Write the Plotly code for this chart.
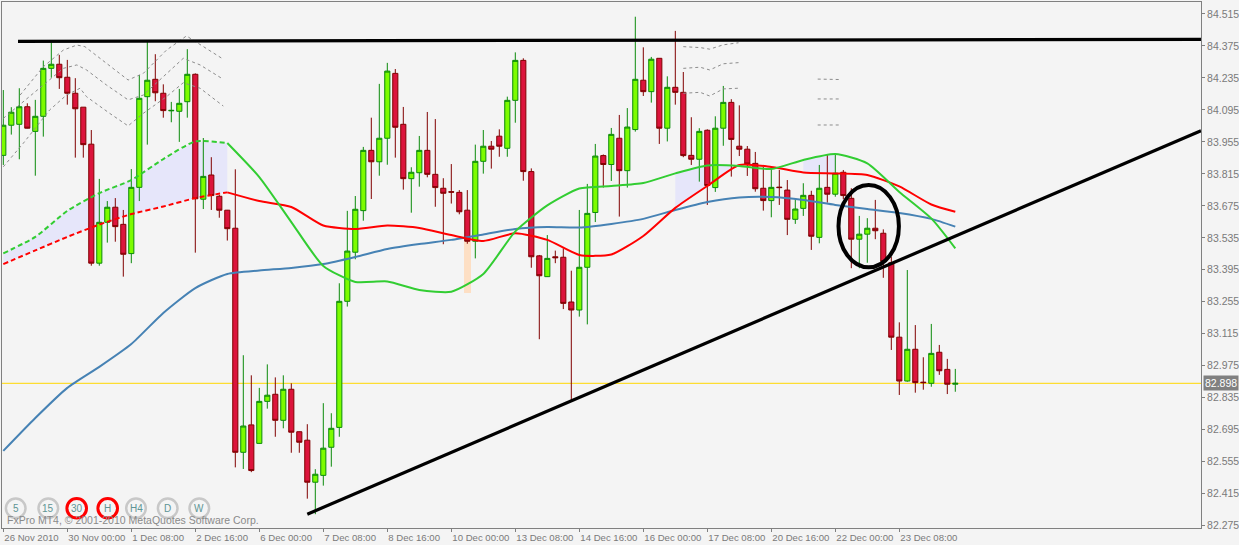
import plotly.graph_objects as go

# ---------------- data ----------------
bar_index = list(range(120))

opens = [83.896, 84.028, 84.032, 84.109, 84.001, 84.067, 84.277, 84.295, 84.238, 84.168,
         84.107, 83.945, 83.424, 83.603, 83.669, 83.594, 83.466, 83.756, 84.153, 84.229,
         84.168, 84.091, 84.089, 84.131, 84.251, 83.704, 83.810, 83.717, 83.656, 83.577,
         82.596, 82.716, 82.635, 82.819, 82.850, 82.736, 82.872, 82.686, 82.649, 82.465,
         82.495, 82.618, 82.705, 83.257, 83.472, 83.654, 83.918, 83.868, 83.971, 84.255,
         84.032, 83.794, 83.820, 83.918, 83.813, 83.752, 83.737, 83.734, 83.656, 83.520,
         83.870, 83.936, 83.980, 83.927, 84.137, 84.312, 83.825, 83.456, 83.365, 83.452,
         83.450, 83.254, 83.219, 83.406, 83.646, 83.895, 83.856, 83.971, 83.829, 84.009,
         84.225, 84.175, 84.321, 84.015, 84.194, 84.172, 83.896, 83.879, 84.006, 83.755,
         84.015, 84.128, 83.936, 83.923, 83.861, 83.752, 83.698, 83.757, 83.744, 83.616,
         83.664, 83.721, 83.537, 83.756, 83.726, 83.822, 83.708, 83.529, 83.551, 83.577,
         83.555, 83.426, 83.100, 82.908, 83.047, 82.903, 82.898, 83.034, 82.959, 82.894]

highs = [84.182, 84.107, 84.190, 84.124, 84.139, 84.311, 84.397, 84.336, 84.314, 84.234,
         84.107, 84.007, 83.793, 83.696, 83.709, 83.657, 83.836, 84.248, 84.394, 84.339,
         84.207, 84.130, 84.187, 84.361, 84.255, 83.972, 83.888, 83.723, 83.657, 83.835,
         83.021, 82.933, 82.878, 82.981, 82.924, 82.933, 82.898, 82.687, 82.719, 82.522,
         82.811, 82.767, 83.336, 83.653, 83.718, 83.933, 84.061, 84.209, 84.301, 84.274,
         84.108, 83.844, 83.981, 84.086, 84.055, 83.796, 83.858, 83.744, 83.744, 83.943,
         84.007, 83.959, 84.010, 84.153, 84.347, 84.321, 83.839, 83.460, 83.547, 83.479,
         83.489, 83.391, 83.657, 83.771, 83.946, 83.900, 84.016, 84.073, 84.103, 84.503,
         84.369, 84.327, 84.322, 84.242, 84.441, 84.261, 84.063, 84.015, 84.010, 84.067,
         84.200, 84.142, 84.115, 83.937, 83.911, 83.846, 83.846, 83.832, 83.788, 83.708,
         83.774, 83.741, 83.854, 83.902, 83.905, 83.832, 83.752, 83.631, 83.621, 83.701,
         83.572, 83.452, 83.165, 83.394, 83.153, 83.012, 83.158, 83.066, 83.005, 82.961]

lows = [83.854, 83.987, 83.879, 84.014, 83.807, 83.978, 84.236, 84.187, 84.118, 83.886,
        83.886, 83.413, 83.413, 83.514, 83.518, 83.365, 83.424, 83.696, 83.943, 84.133,
        84.061, 84.041, 83.955, 84.061, 83.470, 83.661, 83.657, 83.623, 83.523, 82.530,
        82.523, 82.509, 82.634, 82.787, 82.664, 82.701, 82.594, 82.594, 82.393, 82.325,
        82.450, 82.533, 82.664, 83.234, 83.441, 83.610, 83.705, 83.807, 83.855, 83.886,
        83.746, 83.645, 83.759, 83.800, 83.671, 83.507, 83.685, 83.638, 83.509, 83.445,
        83.816, 83.838, 83.890, 83.890, 84.039, 83.785, 83.404, 83.091, 83.364, 83.424,
        83.223, 82.825, 83.190, 83.156, 83.604, 83.755, 83.784, 83.628, 83.755, 84.000,
        84.156, 84.127, 83.946, 83.957, 84.118, 83.888, 83.854, 83.781, 83.679, 83.736,
        83.938, 83.803, 83.893, 83.806, 83.737, 83.654, 83.625, 83.679, 83.547, 83.596,
        83.631, 83.482, 83.511, 83.689, 83.715, 83.704, 83.402, 83.402, 83.426, 83.529,
        83.360, 83.044, 82.847, 82.905, 82.857, 82.870, 82.883, 82.935, 82.851, 82.861]

closes = [84.028, 84.085, 84.109, 84.015, 84.067, 84.277, 84.295, 84.236, 84.168, 84.100,
          83.943, 83.424, 83.603, 83.669, 83.584, 83.463, 83.756, 84.146, 84.225, 84.170,
          84.092, 84.093, 84.124, 84.251, 83.706, 83.804, 83.720, 83.656, 83.575, 82.596,
          82.711, 82.516, 82.819, 82.846, 82.736, 82.872, 82.684, 82.640, 82.465, 82.500,
          82.614, 82.701, 83.257, 83.477, 83.660, 83.918, 83.868, 83.971, 84.265, 84.019,
          83.794, 83.822, 83.918, 83.813, 83.755, 83.730, 83.735, 83.649, 83.520, 83.870,
          83.936, 83.923, 83.936, 84.137, 84.312, 83.825, 83.452, 83.369, 83.445, 83.448,
          83.248, 83.219, 83.406, 83.642, 83.893, 83.856, 83.988, 83.829, 84.020, 84.229,
          84.175, 84.317, 84.015, 84.194, 84.172, 83.895, 83.879, 84.001, 83.764, 84.015,
          84.128, 83.966, 83.923, 83.858, 83.750, 83.698, 83.756, 83.755, 83.616, 83.661,
          83.721, 83.542, 83.752, 83.726, 83.818, 83.720, 83.529, 83.551, 83.577, 83.566,
          83.431, 83.100, 82.908, 83.047, 82.901, 82.901, 83.029, 82.953, 82.894, 82.898]

time_tick_idx = [0, 8, 16, 24, 32, 40, 48, 56, 64, 72, 80, 88, 96, 104, 112]
time_tick_text = ["26 Nov 2010", "30 Nov 00:00", "1 Dec 08:00", "2 Dec 16:00", "6 Dec 00:00",
                  "7 Dec 08:00", "8 Dec 16:00", "10 Dec 00:00", "13 Dec 08:00", "14 Dec 16:00",
                  "16 Dec 00:00", "17 Dec 08:00", "20 Dec 16:00", "22 Dec 00:00", "23 Dec 08:00"]

price_ticks = [84.515, 84.375, 84.235, 84.095, 83.955, 83.815, 83.675, 83.535, 83.395,
               83.255, 83.115, 82.975, 82.835, 82.695, 82.555, 82.415, 82.275]

# moving averages sampled every 4 bars
ma_idx = [0, 4, 8, 12, 16, 20, 24, 28, 32, 36, 40, 44, 48, 52, 56, 60, 64, 68, 72, 76,
          80, 84, 88, 92, 96, 100, 104, 108, 112, 116, 119]
ma_blue = [82.602, 82.746, 82.878, 82.970, 83.070, 83.206, 83.315, 83.377, 83.392, 83.403,
           83.420, 83.451, 83.486, 83.508, 83.526, 83.550, 83.574, 83.582, 83.580, 83.596,
           83.618, 83.657, 83.692, 83.712, 83.714, 83.701, 83.679, 83.661, 83.644, 83.618, 83.584]
ma_red = [83.420, 83.480, 83.539, 83.593, 83.639, 83.672, 83.709, 83.734, 83.696, 83.670,
          83.589, 83.574, 83.589, 83.578, 83.547, 83.521, 83.555, 83.526, 83.460, 83.462,
          83.543, 83.666, 83.762, 83.854, 83.845, 83.821, 83.817, 83.810, 83.760, 83.681, 83.649]
ma_green = [83.467, 83.539, 83.653, 83.731, 83.788, 83.880, 83.957, 83.950, 83.801, 83.604,
            83.412, 83.342, 83.344, 83.307, 83.299, 83.377, 83.563, 83.677, 83.751, 83.762,
            83.775, 83.817, 83.852, 83.850, 83.836, 83.876, 83.902, 83.861, 83.736, 83.620, 83.489]
cloud_zones = [(0, 28), (84, 92), (100, 104)]
dashed_until = 28

# dotted envelope lines
env_top_x = [2.1, 5.0, 7.5, 9.2, 10.2, 12.1, 15.6, 17.5, 20.4, 22.9, 25.0, 27.5]
env_top_y = [84.160, 84.284, 84.357, 84.379, 84.372, 84.321, 84.226, 84.255, 84.357, 84.419, 84.372, 84.317]
env_mid_x = [0.0, 3.75, 7.5, 9.2, 10.4, 12.9, 15.6, 17.5, 20.4, 22.5, 24.6, 27.5]
env_mid_y = [84.058, 84.168, 84.277, 84.292, 84.270, 84.204, 84.139, 84.160, 84.255, 84.321, 84.292, 84.229]
env_bot_x = [0.0, 2.5, 5.8, 7.9, 9.6, 10.4, 13.3, 15.6, 17.5, 20.4, 22.5, 24.6, 27.5]
env_bot_y = [83.846, 83.949, 84.095, 84.160, 84.190, 84.153, 84.080, 84.025, 84.080, 84.153, 84.214, 84.190, 84.112]
env2_x = [85.0, 87.1, 88.3, 90.0, 91.9]
env2_top = [84.372, 84.368, 84.361, 84.380, 84.389]
env2_mid = [84.277, 84.282, 84.270, 84.297, 84.302]
env2_bot = [84.168, 84.172, 84.156, 84.187, 84.190]
env3_x = [101.8, 104.6]
env3_top = [84.230, 84.228]
env3_mid = [84.143, 84.143]
env3_bot = [84.029, 84.029]

peach_idx = [58]
peach_low = [83.295]
peach_high = [83.520]

last_price = 82.898
resist_x = [1.84, 149.71]
resist_y = [84.3955, 84.4042]
support_x = [38.0, 149.71]
support_y = [82.325, 84.004]
circle_x = [104.4, 111.95]
circle_y = [83.406, 83.766]

tf_labels = ["5", "15", "30", "H", "H4", "D", "W"]
tf_active = ["30", "H"]
copyright_text = "FxPro MT4, © 2001-2010 MetaQuotes Software Corp."

# ---------------- figure ----------------
W, H = 1239, 545
ML, MR, MT, MB = 2, 38, 2, 17
PW, PH = W - ML - MR, H - MT - MB
XR = [-0.1625, -0.1625 + PW / 8.0]
YR = [84.5675 - PH / 228.4, 84.5675]
FONT = "Liberation Sans, Arial, sans-serif"

fig = go.Figure()

# peach histogram bar (bar layer is below candles)
fig.add_trace(go.Bar(x=peach_idx, y=[h - l for h, l in zip(peach_high, peach_low)], base=peach_low,
                     width=0.85, marker=dict(color="#FDDFC4", line=dict(width=0)),
                     hoverinfo="skip", showlegend=False))

fig.add_trace(go.Candlestick(
    x=bar_index, open=opens, high=highs, low=lows, close=closes,
    increasing=dict(line=dict(color="#0A8A0A", width=1), fillcolor="#7CFC00"),
    decreasing=dict(line=dict(color="#800000", width=1), fillcolor="#DC143C"),
    whiskerwidth=0, hoverinfo="skip", showlegend=False))

# envelope dotted lines
env_style = dict(color="#8C8C8C", width=1, dash="3px,3px")
for xs, ys in [(env_top_x, env_top_y), (env_mid_x, env_mid_y), (env_bot_x, env_bot_y),
               (env2_x, env2_top), (env2_x, env2_mid), (env2_x, env2_bot),
               (env3_x, env3_top), (env3_x, env3_mid), (env3_x, env3_bot)]:
    fig.add_trace(go.Scatter(x=xs, y=ys, mode="lines", line=env_style,
                             hoverinfo="skip", showlegend=False))

# moving averages
split = ma_idx.index(dashed_until)
fig.add_trace(go.Scatter(x=ma_idx, y=ma_blue, mode="lines",
                         line=dict(color="#4682B4", width=2, shape="spline", smoothing=0.6),
                         hoverinfo="skip", showlegend=False))
for series, col in [(ma_red, "#FF0000"), (ma_green, "#32CD32")]:
    fig.add_trace(go.Scatter(x=ma_idx[:split + 1], y=series[:split + 1], mode="lines",
                             line=dict(color=col, width=2, dash="5px,3px", shape="spline", smoothing=0.6),
                             hoverinfo="skip", showlegend=False))
    fig.add_trace(go.Scatter(x=ma_idx[split:], y=series[split:], mode="lines",
                             line=dict(color=col, width=2, shape="spline", smoothing=0.6),
                             hoverinfo="skip", showlegend=False))

shapes = []
# lavender cloud between green and red (below traces)
for a, b in cloud_zones:
    pts = [i for i, k in enumerate(ma_idx) if a <= k <= b]
    up = [(ma_idx[i], ma_green[i]) for i in pts]
    dn = [(ma_idx[i], ma_red[i]) for i in reversed(pts)]
    path = "M " + " L ".join(f"{x},{y}" for x, y in up + dn) + " Z"
    shapes.append(dict(type="path", path=path, xref="x", yref="y", layer="below",
                       fillcolor="#E6E6FA", line=dict(width=0)))

# bid line
shapes.append(dict(type="line", xref="paper", x0=0, x1=1, yref="y", y0=last_price, y1=last_price,
                   line=dict(color="#FFD700", width=1), layer="below"))
# trend lines
shapes.append(dict(type="line", xref="x", yref="y", x0=resist_x[0], x1=resist_x[1],
                   y0=resist_y[0], y1=resist_y[1], line=dict(color="black", width=3.2)))
shapes.append(dict(type="line", xref="x", yref="y", x0=support_x[0], x1=support_x[1],
                   y0=support_y[0], y1=support_y[1], line=dict(color="black", width=3.2)))
# hand-drawn circle
shapes.append(dict(type="circle", xref="x", yref="y", x0=circle_x[0], x1=circle_x[1],
                   y0=circle_y[0], y1=circle_y[1], line=dict(color="black", width=4)))

# timeframe buttons
annotations = []
btn_px = [15.7, 48.3, 76.7, 107.7, 136.0, 167.7, 199.3]
btn_py = 508.3
for lab, px in zip(tf_labels, btn_px):
    xp = (px - ML) / PW
    yp = (H - MB - btn_py) / PH
    active = lab in tf_active
    shapes.append(dict(type="circle", xref="paper", yref="paper", xsizemode="pixel", ysizemode="pixel",
                       xanchor=xp, yanchor=yp, x0=-9.8, x1=9.8, y0=-9.8, y1=9.8,
                       line=dict(color="#FF0000" if active else "#C8C8C8", width=3 if active else 2.5)))
    annotations.append(dict(x=xp, y=yp, xref="paper", yref="paper", text=lab, showarrow=False,
                            font=dict(family=FONT, size=10, color="#5F9494"),
                            xanchor="center", yanchor="middle"))

annotations.append(dict(x=(5 - ML) / PW, y=(H - MB - 519.5) / PH, xref="paper", yref="paper",
                        text=copyright_text, showarrow=False, xanchor="left", yanchor="middle",
                        font=dict(family=FONT, size=10.5, color="#8A8A8A")))

annotations.append(dict(x=1, y=last_price, xref="paper", yref="y", text=f"{last_price:.3f}",
                        showarrow=False, xanchor="left", yanchor="middle", xshift=2,
                        bgcolor="#808080", borderpad=1,
                        font=dict(family=FONT, size=10.5, color="white")))

fig.update_layout(
    width=W, height=H, template="none",
    margin=dict(l=ML, r=MR, t=MT, b=MB, pad=0),
    paper_bgcolor="#F4F4F4", plot_bgcolor="#F4F4F4",
    showlegend=False, boxgap=0.36, boxgroupgap=0, bargap=0,
    font=dict(family=FONT, size=10.5, color="#7A7A7A"),
    shapes=shapes, annotations=annotations,
    xaxis=dict(range=XR, showgrid=False, zeroline=False, showline=True, mirror=True,
               linecolor="#808080", linewidth=1, ticks="outside", ticklen=3, tickcolor="#808080",
               tickvals=time_tick_idx, ticktext=time_tick_text, ticklabelposition="outside right",
               tickangle=0, tickfont=dict(size=9.6),
               rangeslider=dict(visible=False), automargin=False, fixedrange=True),
    yaxis=dict(range=YR, side="right", showgrid=False, zeroline=False, showline=True, mirror=True,
               linecolor="#808080", linewidth=1, ticks="outside", ticklen=3, tickcolor="#808080",
               tickvals=price_ticks, tickformat=".3f", automargin=False, fixedrange=True),
)

fig.write_html("out.html", config={"displayModeBar": False},
               post_script="document.body.style.margin='0';document.body.style.overflow='hidden';"
                           "document.body.style.background='#F4F4F4';")
